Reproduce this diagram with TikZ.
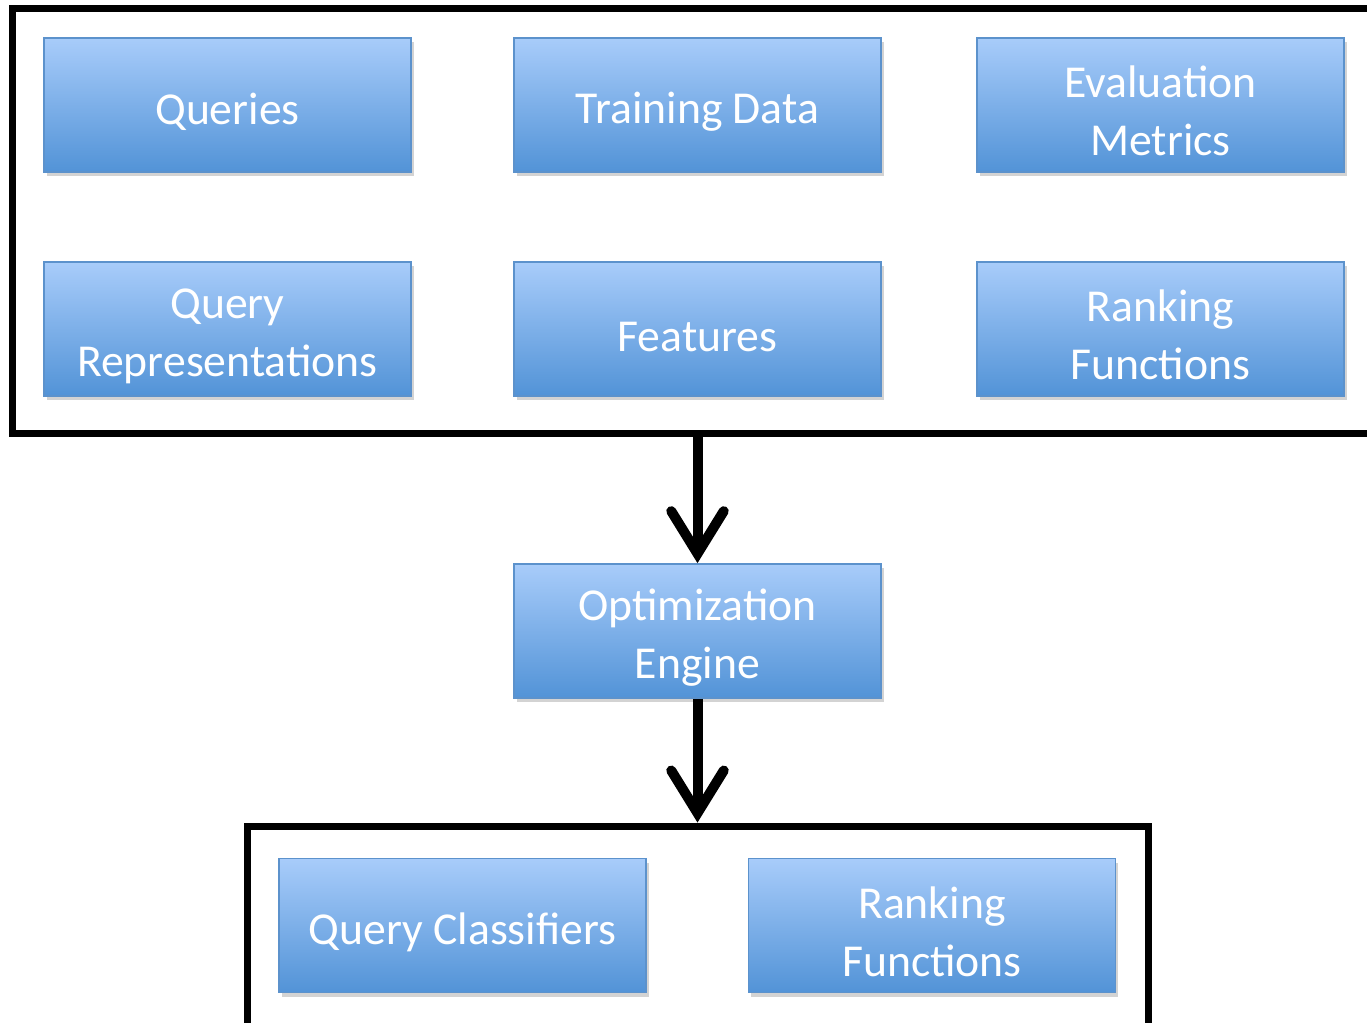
\documentclass[tikz,border=0pt]{standalone}
\usepackage{fontspec}
\setmainfont{Carlito}
\usepackage{xcolor}
\usepackage{tikz}
\usetikzlibrary{arrows.meta, shadows}
\definecolor{boxtop}{HTML}{A8CCFA}
\definecolor{boxbot}{HTML}{5293D7}
\definecolor{boxedge}{HTML}{5C92CC}
\tikzset{
  block/.style={rectangle, draw=boxedge, line width=1pt, top color=boxtop,
                bottom color=boxbot, minimum width=7.34cm, minimum height=2.68cm,
                align=center, text=white, font=\fontsize{26}{33}\selectfont,
                execute at begin node={\rule{0pt}{26pt}},
                drop shadow={shadow xshift=1.5pt, shadow yshift=-2.5pt, opacity=0.35}},
  twoline/.style={block, execute at begin node={\rule{0pt}{58pt}}},
  frame/.style={rectangle, draw=black, line width=0.14cm, inner sep=0pt},
  arrow/.style={draw=black, line width=0.2cm,
                -{Straight Barb[length=0.85cm, width=1.05cm, line cap=round]}},
}

\begin{document}
\begin{tikzpicture}[x=0.02cm, y=-0.02cm]
  \useasboundingbox (0,0) rectangle (1367,1022);

  % frames
  \node[frame, minimum width=27.36cm, minimum height=8.52cm] (inputs) at (696,221) {};
  \node[frame, minimum width=18.04cm, minimum height=4.18cm] (outputs) at (698,930.5) {};

  % input blocks
  \node[block] (queries) at (227.5,105) {Queries};
  \node[block] (train) at (697.5,105) {Training Data};
  \node[twoline] (evalm) at (1160.5,105) {Evaluation\\Metrics};
  \node[twoline] (qrep) at (227.5,329) {Query\\Representations};
  \node[block] (feat) at (697.5,329) {Features};
  \node[twoline] (rankin) at (1160.5,329) {Ranking\\Functions};

  \node[twoline] (opt) at (697.5,631) {Optimization\\Engine};

  % output blocks
  \node[block] (qclass) at (462.5,925.5) {Query Classifiers};
  \node[twoline] (rankout) at (932,925.5) {Ranking\\Functions};

  \draw[arrow] (opt.north |- inputs.south) -- (opt.north);
  \draw[arrow] (opt.south) -- (opt.south |- outputs.north);
\end{tikzpicture}
\end{document}
